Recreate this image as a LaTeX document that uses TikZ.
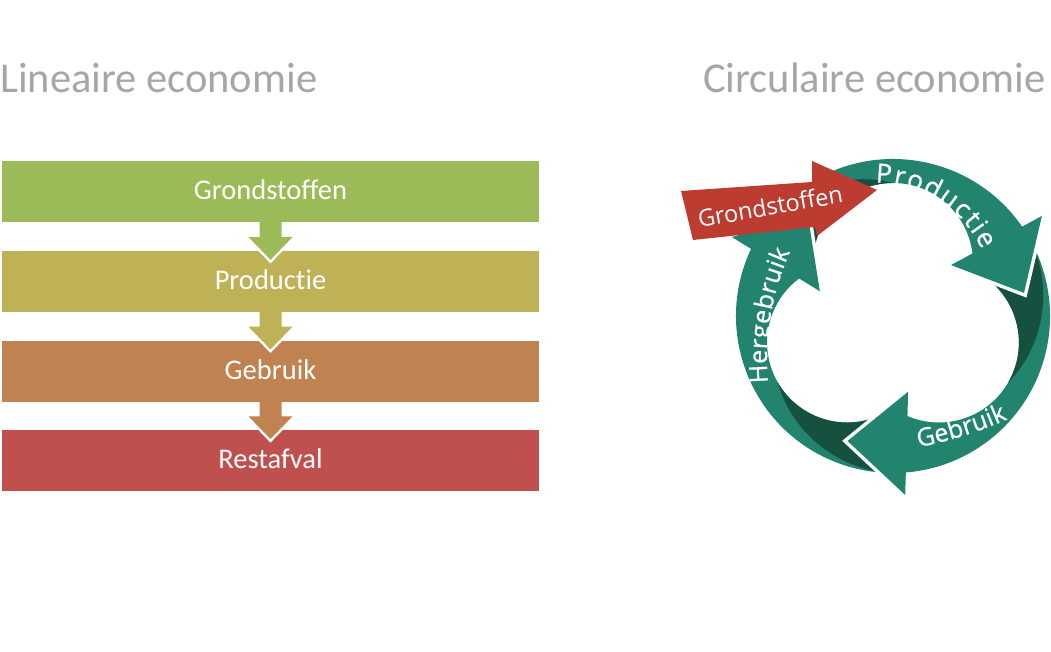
\documentclass[tikz,border=0pt]{standalone}
\usepackage{fontspec}
\newfontfamily\boxfont[Ligatures=NoCommon]{Carlito}
\newfontfamily\ringfont[FakeBold=0.7]{Open Sans}
\newfontfamily\redfont{Open Sans}
\definecolor{cone}{RGB}{155,187,89}
\definecolor{ctwo}{RGB}{190,177,86}
\definecolor{cthree}{RGB}{191,130,80}
\definecolor{cfour}{RGB}{192,80,77}
\definecolor{ringgreen}{RGB}{34,131,111}
\definecolor{ringdark}{RGB}{22,80,62}
\definecolor{redarrow}{RGB}{189,60,50}
\definecolor{titlegray}{RGB}{166,166,166}
\begin{document}
\begin{tikzpicture}[x=1pt,y=1pt,
  stagebox/.style={rectangle, minimum width=537pt, minimum height=61pt, inner sep=0pt, outer sep=0pt, draw=none},
  stagelabel/.style={anchor=base, inner sep=0pt, text=white, font=\boxfont\fontsize{28.5}{30}\selectfont},
  titletext/.style={inner sep=0pt, text=titlegray, font=\boxfont\fontsize{42.5}{46}\selectfont},
  ringchar/.style={anchor=base, inner sep=0pt, outer sep=0pt, text=white, font=\ringfont\fontsize{#1}{26}\selectfont},
  headstroke/.style={draw=white, line width=7pt, line join=miter},
  flowstroke/.style={draw=white, line width=5pt, line join=miter}]
\useasboundingbox (0,0) rectangle (1051,-652);

% titles
\node[titletext, anchor=base west] (tlin) at (0,-93) {Lineaire economie};
\node[titletext, anchor=base east] (tcirc) at (1046,-93) {Circulaire economie};

% linear economy
\node[stagebox, fill=cone]   (g1) at (270.5,-192) {};
\node[stagebox, fill=ctwo]   (g2) at (270.5,-281.6) {};
\node[stagebox, fill=cthree] (g3) at (270.5,-371.2) {};
\node[stagebox, fill=cfour]  (g4) at (270.5,-460.8) {};
\node[stagelabel] (l1) at ([yshift=-8pt]g1.center) {Grondstoffen};
\node[stagelabel] (l2) at ([yshift=-8pt]g2.center) {Productie};
\node[stagelabel] (l3) at ([yshift=-8pt]g3.center) {Gebruik};
\node[stagelabel] (l4) at ([yshift=-8pt]g4.center) {Restafval};

\foreach \a/\b/\c in {g1/g2/cone, g2/g3/ctwo, g3/g4/cthree} {
  \path[flowstroke] ([xshift=-22pt,yshift=-14.6pt]\a.south) -- ([yshift=-8.7pt]\b.north) -- ([xshift=22pt,yshift=-14.6pt]\a.south);
  \fill[\c] ([xshift=-11pt,yshift=1pt]\a.south) -- ([xshift=-11pt,yshift=-14.6pt]\a.south)
     -- ([xshift=-22pt,yshift=-14.6pt]\a.south) -- ([yshift=-8.7pt]\b.north)
     -- ([xshift=22pt,yshift=-14.6pt]\a.south) -- ([xshift=11pt,yshift=-14.6pt]\a.south)
     -- ([xshift=11pt,yshift=1pt]\a.south) -- cycle;
}

% circular economy
\begin{scope}[shift={(893,-316)}]
  % bands
  \foreach \r in {0,-120,-240} {
    \begin{scope}[rotate=\r]
      \fill[ringgreen] (32:157) arc[start angle=32, end angle=150, radius=157pt]
        -- (-79.56,61.37) arc[start angle=174, end angle=3, radius=80pt] -- cycle;
    \end{scope}
  }
  % dark tails
  \foreach \r in {0,-120,-240} {
    \begin{scope}[rotate=\r]
      \fill[ringdark] (0,133) -- plot[domain=90:150, samples=50]
        (\x:{157-24*((150-\x)/60)*sqrt((150-\x)/60)})
        -- (-79.56,61.37) arc[start angle=174, end angle=90, radius=80pt] -- cycle;
    \end{scope}
  }
  % heads
  \foreach \r in {0,-120,-240} {
    \begin{scope}[rotate=\r]
      \path[headstroke] (33.9:179.4) -- (10:133) -- (41.3:77.2);
      \fill[ringgreen] (33.9:179.4) -- (10:133) -- (41.3:77.2) -- cycle;
    \end{scope}
  }
  % label "Productie" (clockwise along the top)
  \foreach \ch/\cen/\i in {P/0.3015/0, r/0.807/1, o/1.312/2, d/1.9195/3, u/2.5325/4,
                           c/3.0945/5, t/3.5265/6, i/3.8295/7, e/4.2365/8} {
    \pgfmathsetmacro\ang{90-(26.5*\cen+\i*1.6)/118*57.2958}
    \node[ringchar=26.5, rotate=\ang-90] (pc\i) at ([shift={(\ang:118)}]-17.5,15.4) {\ch};
  }
  % label "Gebruik" (counter-clockwise along the bottom)
  \foreach \ch/\cen/\i in {G/0.3555/0, e/0.9915/1, b/1.5785/2, r/2.089/3, u/2.5995/4,
                           i/3.0325/5, k/3.4215/6} {
    \pgfmathsetmacro\ang{-78.9+(25*\cen+\i*0.2)/420*57.2958}
    \node[ringchar=25, rotate=\ang+90] (gc\i) at ([shift={(\ang:420)}]-55,281) {\ch};
  }
  % label "Hergebruik" (upwards along the left side)
  \foreach \ch/\cen/\i in {H/0.3695/0, e/1.0195/1, r/1.504/2, g/1.982/3, e/2.5365/4,
                           b/3.1235/5, r/3.634/6, u/4.1445/7, i/4.5775/8, k/4.9665/9} {
    \pgfmathsetmacro\ang{185-(25*\cen+\i*0.4)/263.5*57.2958}
    \node[ringchar=25, rotate=\ang-90] (hc\i) at ([shift={(\ang:263.5)}]137.5,-43.8) {\ch};
  }
\end{scope}

% red input arrow
\fill[redarrow] (681,-191) -- (812,-182) -- (812,-161) -- (877,-190) -- (817,-236)
  -- (815,-227) -- (693,-240) -- cycle;
\node[rotate=10, anchor=base, inner sep=0pt, text=white, font=\redfont\fontsize{23.5}{25}\selectfont] (rlab) at (771.7,-215) {Grondstoffen};
\end{tikzpicture}
\end{document}
